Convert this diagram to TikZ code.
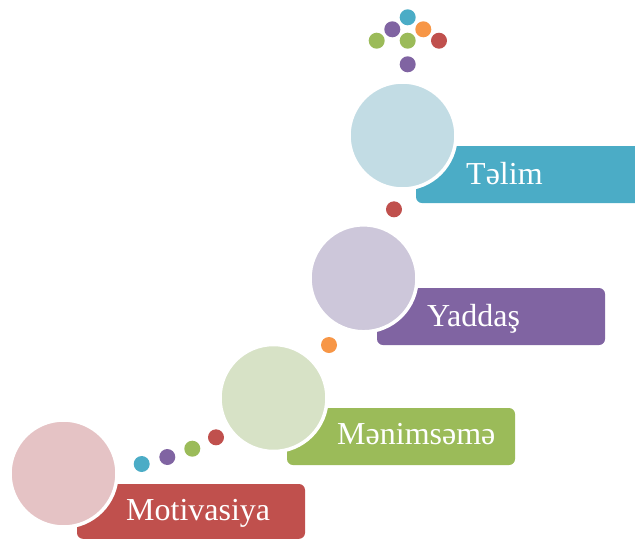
\documentclass[tikz,border=0pt]{standalone}
\usepackage{fontspec}
\setmainfont{Liberation Serif}
\definecolor{cred}{HTML}{C0504D}
\definecolor{cgreen}{HTML}{9BBB59}
\definecolor{cpurple}{HTML}{8064A2}
\definecolor{cteal}{HTML}{4BACC6}
\definecolor{corange}{HTML}{F79646}
\definecolor{lred}{HTML}{E5C3C5}
\definecolor{lgreen}{HTML}{D7E2C6}
\definecolor{lpurple}{HTML}{CDC7DA}
\definecolor{lteal}{HTML}{C2DCE4}
\tikzset{
  band/.style={fill=#1, rounded corners=6pt},
  bubble/.style={circle, fill=#1, minimum size=107pt, inner sep=0pt, draw=white, line width=3.5pt},
  dot/.style={circle, fill=#1, minimum size=16pt, inner sep=0pt},
  lbl/.style={anchor=base west, text=white, font=\fontsize{32}{38}\selectfont, inner sep=0pt},
}
\begin{document}
\begin{tikzpicture}[x=1pt,y=-1pt]
\useasboundingbox (0,0) rectangle (635,539);
\clip (0,0) rectangle (635,539);
% coloured bands
\fill[band=cred] (77,484) rectangle (305,538.8);
\fill[band=cgreen] (287,408) rectangle (515,465);
\fill[band=cpurple] (377,288) rectangle (605,345);
\fill[band=cteal] (416,146) rectangle (660,203);
% circles
\node[bubble=lred] (c1) at (63.5,473.5) {};
\node[bubble=lgreen] (c2) at (273.5,398) {};
\node[bubble=lpurple] (c3) at (363.5,278.3) {};
\node[bubble=lteal] (c4) at (402.5,135.5) {};
% labels
\node[lbl] (t1) at (126,520) {Motivasiya};
\node[lbl] (t2) at (337,444) {Mənimsəmə};
\node[lbl] (t3) at (427,326) {Yaddaş};
\node[lbl] (t4) at (466,184) {Təlim};
% small dots
\node[dot=cteal] (d1) at (141.7,464) {};
\node[dot=cpurple] (d2) at (167.3,457) {};
\node[dot=cgreen] (d3) at (192.3,448.7) {};
\node[dot=cred] (d4) at (216,437.3) {};
\node[dot=corange] (d5) at (329,345) {};
\node[dot=cred] (d6) at (394,209.3) {};
% top cluster
\node[dot=cteal] (k1) at (407.7,17.3) {};
\node[dot=cpurple] (k2) at (392.3,29.3) {};
\node[dot=corange] (k3) at (423.3,29.3) {};
\node[dot=cgreen] (k4) at (376.7,40.7) {};
\node[dot=cgreen] (k5) at (407.7,40.7) {};
\node[dot=cred] (k6) at (439,40.7) {};
\node[dot=cpurple] (k7) at (407.7,64.3) {};
\end{tikzpicture}
\end{document}
